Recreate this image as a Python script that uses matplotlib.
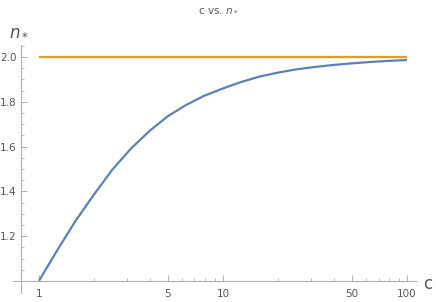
import numpy as np
import matplotlib
matplotlib.use("Agg")
import matplotlib.pyplot as plt
from matplotlib.ticker import FixedLocator, NullFormatter, FixedFormatter

# values (smoothed by eye)
c_vals = [1, 1.26, 1.58, 2, 2.5, 3.16, 4, 5, 6.3, 7.9, 10,
          12.6, 15.8, 20, 25, 31.6, 40, 50, 63, 79, 100]
n_vals = [1.0, 1.138, 1.268, 1.388, 1.496, 1.591, 1.671, 1.735, 1.786, 1.827, 1.860,
          1.889, 1.913, 1.931, 1.945, 1.956, 1.965, 1.972, 1.978, 1.983, 1.987]
limit_c = [1, 100]
limit_n = [2.0, 2.0]

x_major = [1, 5, 10, 50, 100]
x_minor = [2, 3, 4, 6, 7, 8, 9, 20, 30, 40, 60, 70, 80, 90]
y_major = [1.2, 1.4, 1.6, 1.8, 2.0]
y_minor = [1.05, 1.1, 1.15, 1.25, 1.3, 1.35, 1.45, 1.5, 1.55, 1.65, 1.7, 1.75,
           1.85, 1.9, 1.95, 2.05]

blue = '#5E81B5'
orange = '#E19C24'
axis_col = '#b0b0b0'
text_col = '#555555'

fig = plt.figure(figsize=(4.36, 3.02), dpi=100)
ax = fig.add_axes([13/436, 9/302, (416-13)/436, (293-45)/302])

ax.plot(c_vals, n_vals, color=blue, lw=1.6, solid_capstyle='butt')
ax.plot(limit_c, limit_n, color=orange, lw=1.6, solid_capstyle='butt')

ax.set_xscale('log')
ax.set_xlim(0.723, 111.9)
ax.set_ylim(0.946, 2.054)

for s in ['top', 'right']:
    ax.spines[s].set_visible(False)
ax.spines['left'].set_position(('data', 0.798))
ax.spines['bottom'].set_position(('data', 1.0))
for s in ['left', 'bottom']:
    ax.spines[s].set_color(axis_col)
    ax.spines[s].set_linewidth(0.8)

ax.xaxis.set_major_locator(FixedLocator(x_major))
ax.xaxis.set_major_formatter(FixedFormatter([str(v) for v in x_major]))
ax.xaxis.set_minor_locator(FixedLocator(x_minor))
ax.xaxis.set_minor_formatter(NullFormatter())
ax.yaxis.set_major_locator(FixedLocator(y_major))
ax.yaxis.set_major_formatter(FixedFormatter(['%.1f' % v for v in y_major]))
ax.yaxis.set_minor_locator(FixedLocator(y_minor))
ax.yaxis.set_minor_formatter(NullFormatter())

ax.tick_params(which='major', direction='in', length=4, width=0.7, color=axis_col,
               labelcolor=text_col, labelsize=7.5)
ax.tick_params(which='minor', direction='in', length=2.2, width=0.6, color=axis_col)
ax.tick_params(axis='x', which='major', pad=6)
ax.tick_params(axis='y', which='major', pad=3)

fig.text(428/436, 1 - 284/302, 'c', color=text_col, fontsize=12, ha='center', va='center')
fig.text(19/436, 1 - 30/302, '$n_*$', color=text_col, fontsize=12, ha='center', va='center')
fig.text(218/436, 1 - 10/302, 'c vs. $n_*$', color=text_col, fontsize=7.5, ha='center', va='center')

fig.savefig('out.png', dpi=100)
